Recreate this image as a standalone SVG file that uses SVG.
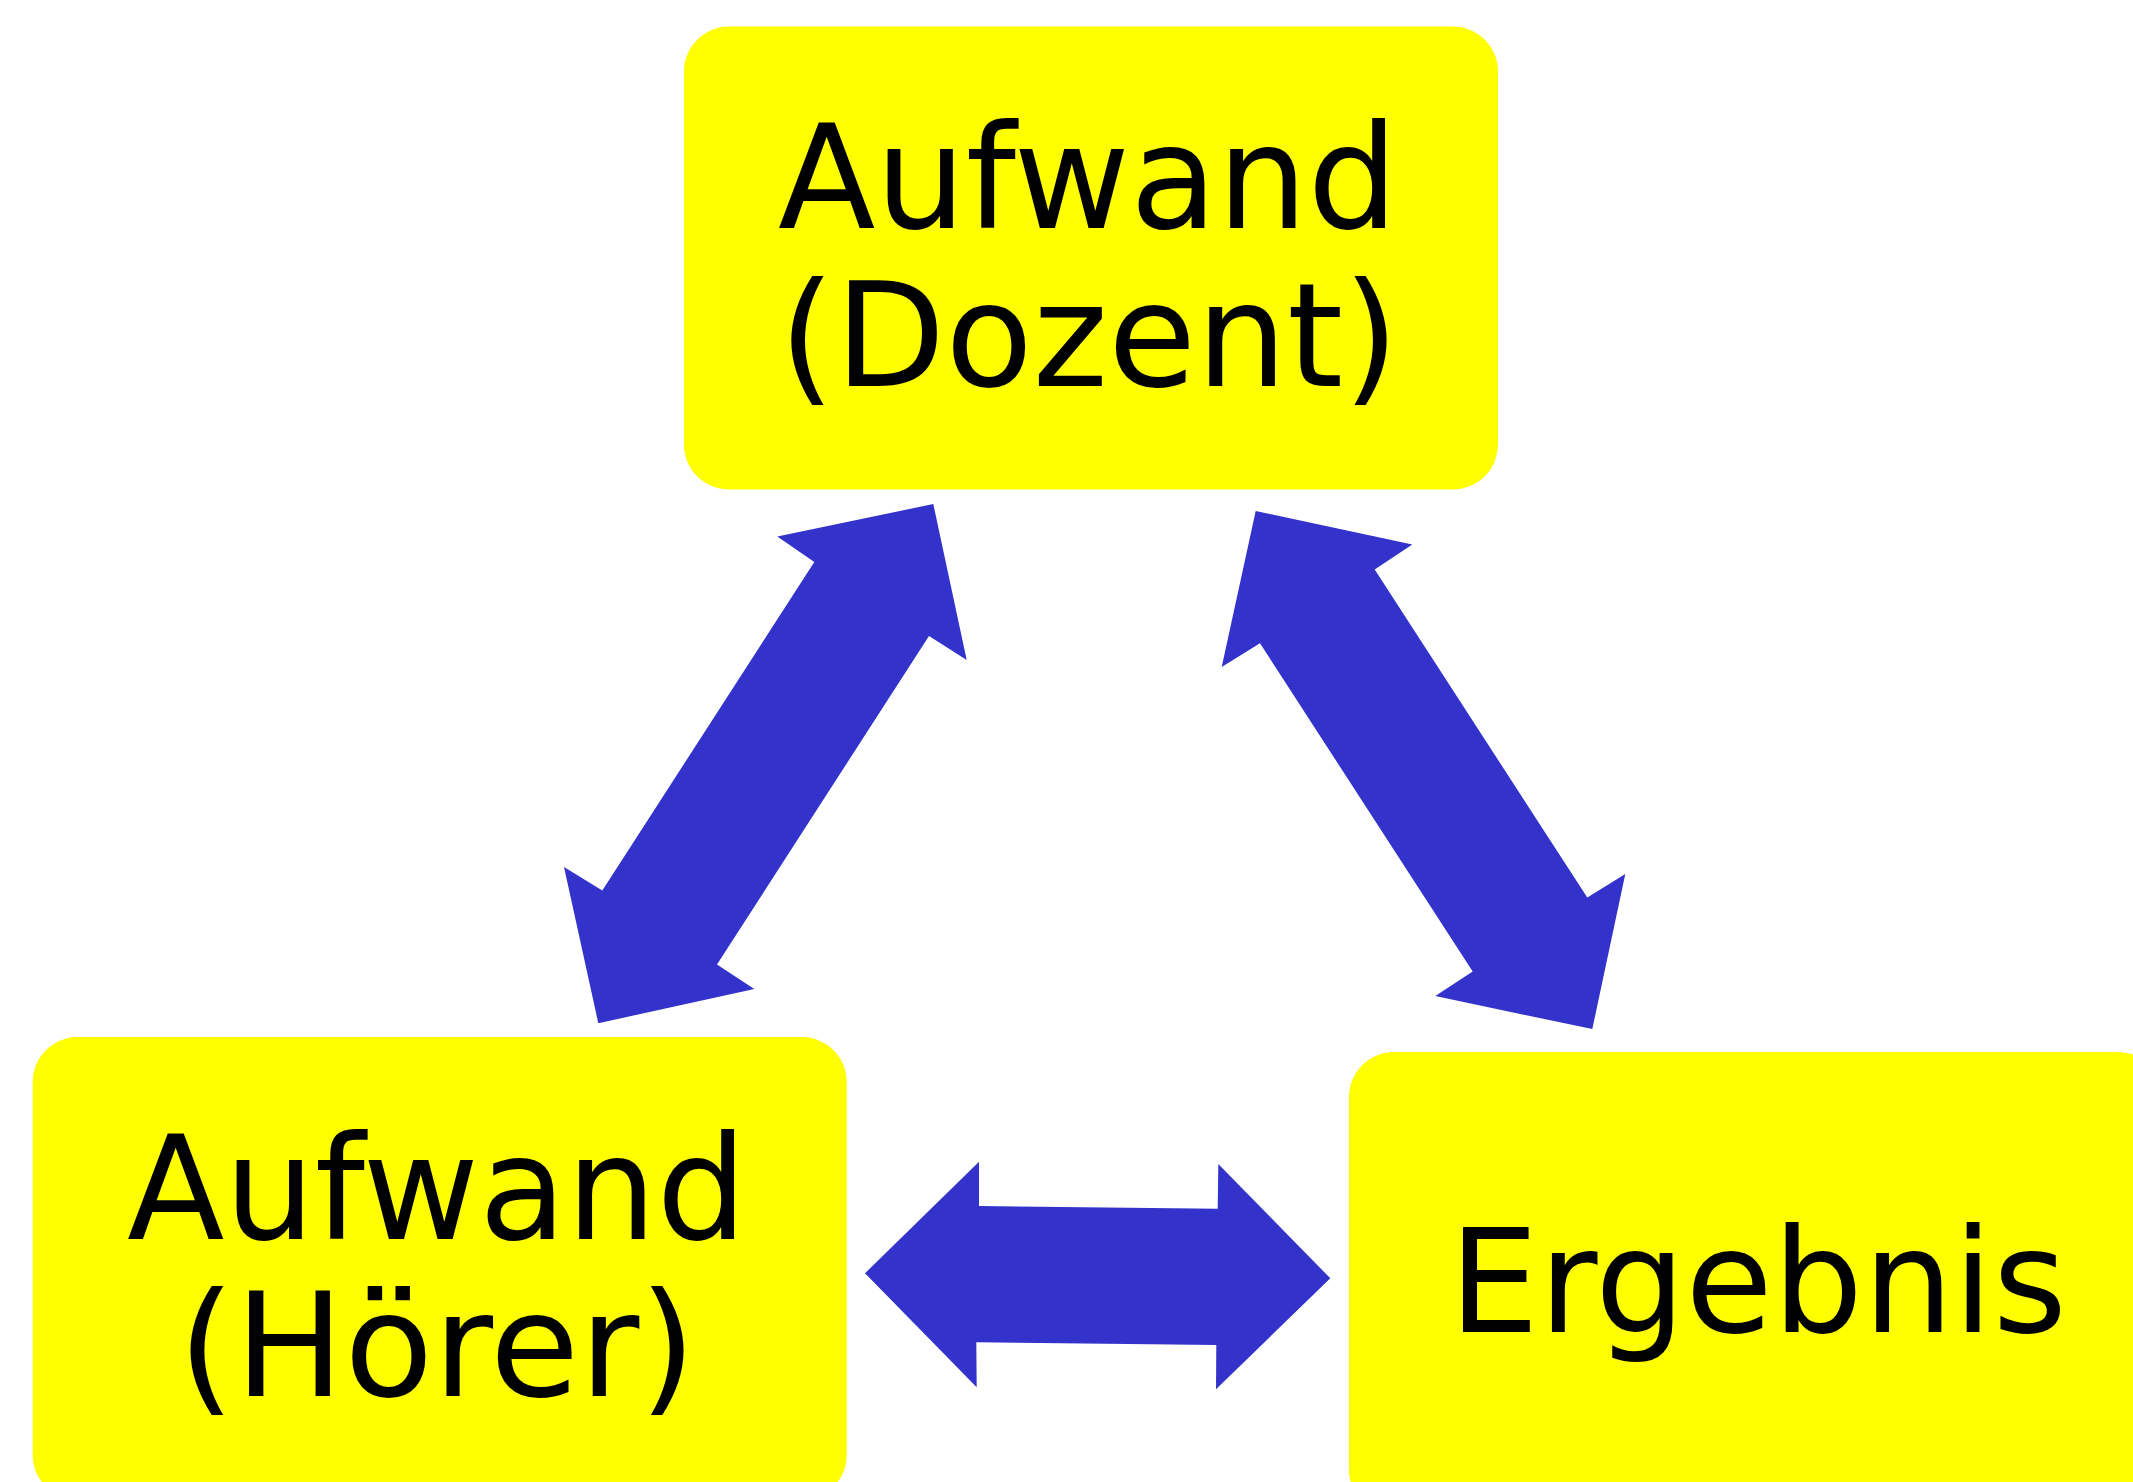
<svg xmlns="http://www.w3.org/2000/svg" width="2133" height="1482" viewBox="0 0 2133 1482">
<style>
.box{fill:#FFFF00;}
.lbl{font-family:"DejaVu Sans","Liberation Sans",sans-serif;font-size:144px;fill:#000;text-anchor:middle;}
.arr{fill:#3333CC;}
</style>
<rect width="2133" height="1482" fill="#FFFFFF"/>
<g id="node-dozent">
<rect class="box" x="684" y="26.5" width="814" height="463" rx="45" ry="45"/>
<text class="lbl" x="1088" y="228" textLength="620" lengthAdjust="spacingAndGlyphs">Aufwand</text>
<text class="lbl" x="1089" y="386" textLength="620" lengthAdjust="spacingAndGlyphs">(Dozent)</text>
</g>
<g id="node-hoerer">
<rect class="box" x="32.7" y="1037" width="814" height="463" rx="45" ry="45"/>
<text class="lbl" x="437" y="1239" textLength="620" lengthAdjust="spacingAndGlyphs">Aufwand</text>
<text class="lbl" x="437" y="1396" textLength="518" lengthAdjust="spacingAndGlyphs">(Hörer)</text>
</g>
<g id="node-ergebnis">
<rect class="box" x="1349" y="1052" width="814" height="463" rx="45" ry="45"/>
<text class="lbl" x="1758" y="1332" textLength="618" lengthAdjust="spacingAndGlyphs">Ergebnis</text>
</g>
<g id="connectors">
<polygon class="arr" points="933.3,504 966.7,660.1 929,635.9 717,964.6 754.3,989.1 598.3,1023.2 564,867 602.3,890.6 814.3,561.9 777.3,536.6"/>
<polygon class="arr" points="1255.7,511 1412.3,544.4 1374.7,569.6 1587.3,897.6 1625.3,874.1 1592.3,1029.1 1435.3,996.1 1472.7,971.6 1260,643.3 1221.7,667.1"/>
<polygon class="arr" points="865,1273.3 979,1161.7 979,1206 1217.7,1208.7 1218.3,1164 1330.3,1278.3 1216,1389.3 1216.3,1345 976.3,1342.3 976.7,1387.3"/>
</g>
</svg>
